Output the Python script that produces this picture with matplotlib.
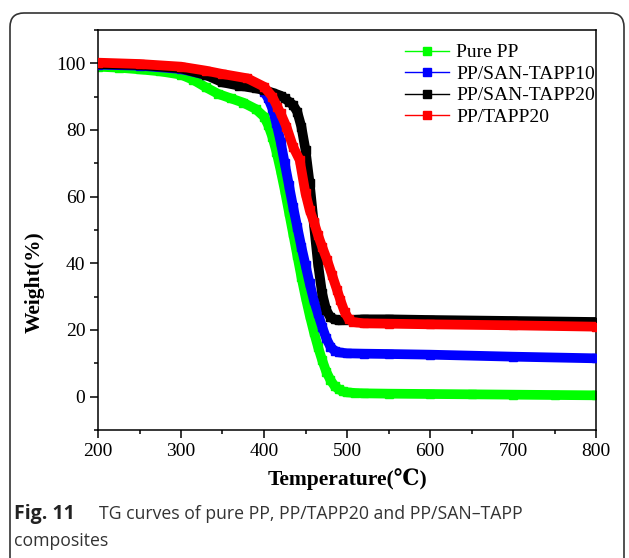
import numpy as np
import matplotlib.pyplot as plt
from matplotlib.lines import Line2D
from matplotlib.patches import FancyBboxPatch
from matplotlib.transforms import IdentityTransform
from matplotlib.ticker import MultipleLocator

# TG data (temperature in C, weight in %)
t_pp = [200, 225, 250, 275, 300, 315, 330, 345, 360, 375, 390, 400, 405, 410, 415,
        420, 425, 430, 435, 440, 445, 450, 455, 460, 465, 470, 475, 480, 485, 490,
        495, 500, 510, 520, 550, 600, 650, 700, 750, 800]
w_pp = [99.0, 98.7, 98.2, 97.6, 96.6, 95.0, 92.8, 90.8, 89.5, 88.2, 86.3, 84.0, 81.5, 78.0, 73.5,
        68.0, 62.0, 55.5, 49.0, 42.5, 36.0, 30.0, 24.5, 19.5, 15.0, 11.0, 7.5, 5.0, 3.2, 2.2,
        1.6, 1.3, 1.1, 1.0, 0.9, 0.8, 0.7, 0.6, 0.5, 0.4]

t_san10 = [200, 250, 300, 330, 360, 390, 400, 405, 410, 415, 420, 425, 430, 435, 440,
           445, 450, 455, 460, 465, 470, 475, 480, 485, 490, 500, 520, 550, 600, 700, 800]
w_san10 = [99.6, 99.3, 98.3, 96.5, 95.2, 93.5, 91.5, 89.5, 86.5, 82.0, 76.5, 70.0, 63.5, 57.0, 51.0,
           45.0, 39.5, 34.0, 29.0, 25.0, 21.0, 17.5, 15.0, 13.8, 13.3, 13.0, 12.9, 12.8, 12.6, 12.0, 11.5]

t_san20 = [200, 250, 300, 330, 350, 370, 390, 400, 410, 420, 425, 430, 435, 440, 445,
           450, 455, 460, 465, 470, 475, 480, 485, 490, 500, 520, 550, 600, 700, 800]
w_san20 = [99.8, 99.5, 98.5, 96.5, 94.3, 93.3, 92.5, 92.0, 91.2, 90.3, 89.5, 88.5, 87.5, 85.5, 81.0,
           74.0, 64.0, 52.0, 40.0, 31.0, 26.0, 23.8, 23.2, 22.9, 23.0, 23.2, 23.2, 23.0, 22.7, 22.4]

t_tapp20 = [200, 250, 300, 330, 350, 380, 400, 410, 416, 420, 427, 435, 443, 450, 455,
            460, 465, 470, 476, 482, 488, 492, 497, 502, 507, 520, 550, 600, 700, 800]
w_tapp20 = [100.2, 99.8, 99.0, 97.8, 96.8, 95.5, 93.0, 90.0, 87.0, 85.0, 81.0, 75.0, 71.0, 61.0, 56.0,
            52.5, 48.5, 45.0, 41.0, 36.5, 32.0, 29.0, 25.5, 23.3, 22.4, 22.0, 21.9, 21.7, 21.4, 21.0]

series = [
    ("Pure PP", t_pp, w_pp, "#00ff00"),
    ("PP/SAN-TAPP10", t_san10, w_san10, "#0000ff"),
    ("PP/SAN-TAPP20", t_san20, w_san20, "#000000"),
    ("PP/TAPP20", t_tapp20, w_tapp20, "#ff0000"),
]
draw_order = [0, 2, 1, 3]

serif = ["Liberation Serif", "DejaVu Serif", "DejaVu Sans"]

fig = plt.figure(figsize=(6.29, 5.58), dpi=100)
ax = fig.add_axes([98 / 629, 1 - 430 / 558, (596 - 98) / 629, 400 / 558])

for i in draw_order:
    name, t, w, c = series[i]
    ax.plot(t, w, color=c, lw=7, marker="s", ms=6, mec=c, mfc=c,
            solid_joinstyle="miter", zorder=2 + i)

ax.set_xlim(200, 800)
ax.set_ylim(-10, 110)
ax.xaxis.set_major_locator(MultipleLocator(100))
ax.xaxis.set_minor_locator(MultipleLocator(50))
ax.yaxis.set_major_locator(MultipleLocator(20))
ax.yaxis.set_minor_locator(MultipleLocator(10))
ax.tick_params(which="both", direction="out", width=1.1, top=False, right=False,
               labelsize=14)
ax.tick_params(which="major", length=5.5)
ax.tick_params(which="minor", length=3)
for s in ax.spines.values():
    s.set_linewidth(1.1)
for lab in ax.get_xticklabels() + ax.get_yticklabels():
    lab.set_fontfamily(serif)

ax.set_xlabel("Temperature(℃)", fontsize=15.5, fontweight="bold", family=serif, labelpad=6)
ax.set_ylabel("Weight(%)", fontsize=15.5, fontweight="bold", family=serif)
ax.yaxis.set_label_coords(-0.108, 0.37)

handles = [Line2D([], [], color=c, lw=1, marker="s", ms=6, mec=c, mfc=c)
           for _, _, _, c in series]
ax.legend(handles, [s[0] for s in series], loc="upper left",
          bbox_to_anchor=(0.6, 0.985), frameon=False, handlelength=2.3,
          handletextpad=0.35, labelspacing=0.2, borderaxespad=0,
          prop={"family": serif, "size": 14})

# outer rounded frame of the figure panel
frame = FancyBboxPatch((10, -30), 614, 545 + 30, boxstyle="round,pad=0,rounding_size=14",
                       transform=IdentityTransform(), fill=False, ec="#333333", lw=1.2)
fig.patches.append(frame)

fig.text(14 / 629, 1 - 519 / 558, "Fig. 11", fontsize=14, fontweight="bold",
         family="Open Sans", color="#222222", va="baseline")
fig.text(99 / 629, 1 - 519 / 558, "TG curves of pure PP, PP/TAPP20 and PP/SAN\u2013TAPP",
         fontsize=12.7, family="Open Sans", color="#333333", va="baseline")
fig.text(14 / 629, 1 - 546 / 558, "composites", fontsize=12.7, family="Open Sans",
         color="#333333", va="baseline")

fig.savefig("out.png", dpi=100)
